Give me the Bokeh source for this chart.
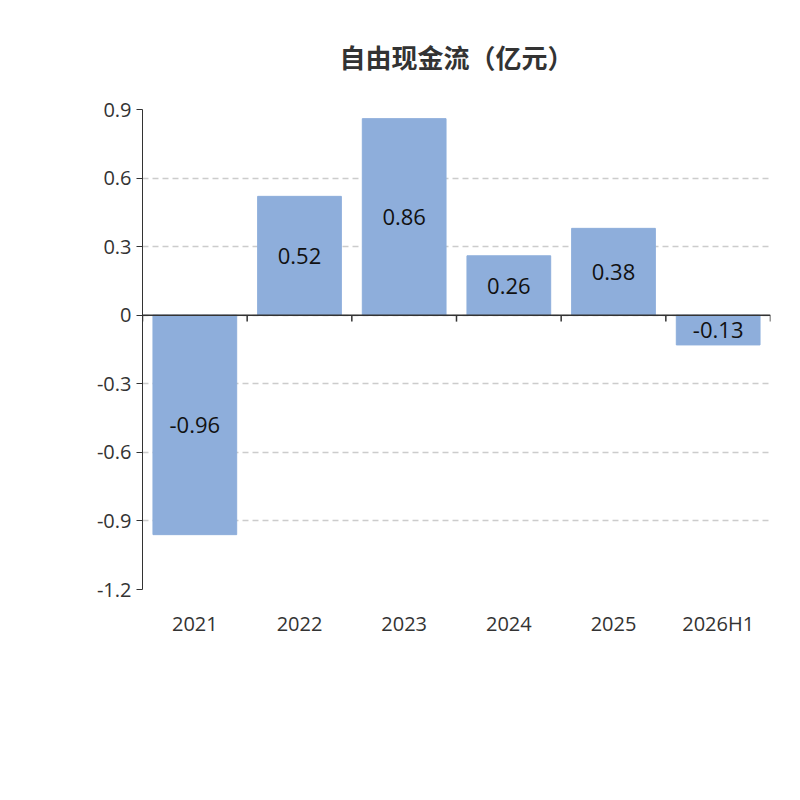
import numpy as np
from bokeh.plotting import figure
from bokeh.models import ColumnDataSource, FixedTicker, Label, Span, Legend, LegendItem, Title
from bokeh.embed import file_html
from bokeh.resources import INLINE

cats = ["2021", "2022", "2023", "2024", "2025", "2026H1"]
vals = [-0.96, 0.52, 0.86, 0.26, 0.38, -0.13]
yticks = [-1.2, -0.9, -0.6, -0.3, 0, 0.3, 0.6, 0.9]
FONT = "Noto Sans CJK SC"
NUM = "Open Sans"

x = np.arange(len(cats)) + 0.5
src = ColumnDataSource(dict(x=x, top=vals, mid=[v / 2 for v in vals],
                            lab=[f"{v:.2f}" for v in vals]))

p = figure(frame_width=628, frame_height=480, output_backend="svg", toolbar_location=None,
           x_range=(0, len(cats)), y_range=(-1.2, 0.9),
           min_border_left=142, min_border_right=14, min_border_top=0, min_border_bottom=0)
p.outline_line_color = None
p.xgrid.visible = False
p.ygrid.grid_line_color = "#cccccc"
p.ygrid.grid_line_dash = "6 4"
p.ygrid.grid_line_width = 1.5

p.title.text = "自由现金流（亿元）"
p.title.align = "center"
p.title.text_font = FONT
p.title.text_font_size = "26px"
p.title.text_font_style = "bold"
p.title.text_color = "#333333"
p.title.standoff = 70

p.yaxis.ticker = FixedTicker(ticks=yticks)
p.yaxis.major_label_overrides = {t: ("0" if t == 0 else f"{t:g}") for t in yticks}
p.yaxis.major_label_text_font = NUM
p.yaxis.major_label_text_font_size = "20px"
p.yaxis.major_label_text_color = "#333333"
p.yaxis.axis_line_color = "#333333"
p.yaxis.major_tick_line_color = "#333333"
p.yaxis.major_tick_out = 6
p.yaxis.major_tick_in = 0
p.yaxis.minor_tick_line_color = None

p.xaxis.ticker = FixedTicker(ticks=list(x))
p.xaxis.major_label_overrides = {float(xx): c for xx, c in zip(x, cats)}
p.xaxis.axis_line_color = None
p.xaxis.major_tick_line_color = None
p.xaxis.minor_tick_line_color = None
p.xaxis.major_label_text_font = NUM
p.xaxis.major_label_text_font_size = "20px"
p.xaxis.major_label_text_color = "#333333"
p.xaxis.major_label_standoff = 14

r = p.vbar(x="x", top="top", bottom=0, width=0.8, source=src, color="#8eaedb")
p.text(x="x", y="mid", text="lab", source=src, text_align="center", text_baseline="middle",
       text_font_size="22px", text_color="#111111", text_font={"value": NUM})

p.add_layout(Span(location=0, dimension="width", line_color="#333333", line_width=1.5))
b = np.arange(len(cats) + 1)
p.segment(x0=b, x1=b, y0=0, y1=-0.028, line_color="#333333", line_width=1.5)

p.add_layout(Label(x=-64, y=445, x_units="screen", y_units="screen", text="(亿)", angle=np.pi / 2,
                   text_align="center", text_baseline="middle", text_font=FONT,
                   text_font_size="14px", text_color="red"))

p.add_layout(Title(text=" ", text_font_size="56px"), "below")
leg = Legend(items=[LegendItem(label="自由现金流(亿元)", renderers=[r])], location="center",
             orientation="horizontal", glyph_width=50, glyph_height=26, padding=0, margin=0,
             border_line_color=None, background_fill_alpha=0, label_text_font=FONT,
             label_text_font_size="20px", label_text_color="#333333")
p.add_layout(leg, "below")
p.add_layout(Title(text="制图数据来自恒生聚源数据库", align="center", text_font=FONT,
                   text_font_size="16px", text_font_style="normal", text_color="#c8961e",
                   standoff=24), "below")

open("out.html", "w").write(file_html(p, INLINE))
